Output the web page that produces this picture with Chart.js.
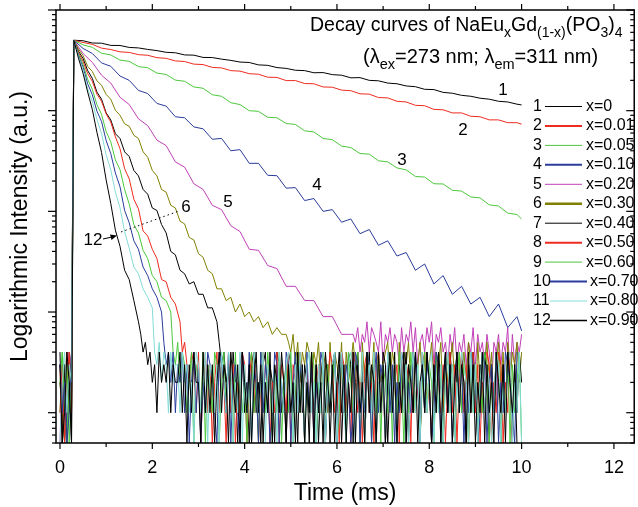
<!DOCTYPE html>
<html>
<head>
<meta charset="utf-8">
<script src="https://cdn.jsdelivr.net/npm/chart.js@4/dist/chart.umd.min.js"></script>
<style>
  html, body { margin: 0; padding: 0; background: #fff; }
  #wrap { width: 638px; height: 507px; }
</style>
</head>
<body>
<div id="wrap"><canvas id="decay" width="638" height="507"></canvas></div>
<script>
// series names (Eu content) and curve numbers
const curveNums = ['1','2','3','4','5','6','7','8','9','10','11','12'];
const seriesNames = ['x=0','x=0.01','x=0.05','x=0.10','x=0.20','x=0.30','x=0.40','x=0.50','x=0.60','x=0.70','x=0.80','x=0.90'];
const colors = ['#000000','#ee2b1f','#4cc83c','#2a3c9c','#c040b8','#808000','#000000','#ee2b1f','#4cc83c','#2a3c9c','#84dcd6','#000000'];

// time axis ticks (ms)
const xMajor = [0, 2, 4, 6, 8, 10, 12];
const xMinor = [1, 3, 5, 7, 9, 11];

// times for slow curves (ms)
const tSlow = [0.3,0.5,0.7,0.9,1.1,1.3,1.5,1.7,1.9,2.1,2.3,2.5,2.7,2.9,3.1,3.3,3.5,3.7,3.9,4.1,4.3,4.5,4.7,4.9,
  5.1,5.3,5.5,5.7,5.9,6.1,6.3,6.5,6.7,6.9,7.1,7.3,7.5,7.7,7.9,8.1,8.3,8.5,8.7,8.9,9.1,9.3,9.5,9.7,9.9,10.0];
// times for fast curves (ms)
const tFast = [0.3,0.4,0.5,0.6,0.7,0.8,0.9,1.0,1.1,1.2,1.3,1.4,1.5,1.6,1.7,1.8,1.9,2.0,2.1,2.2,2.3,2.4,2.5,2.6,
  2.7,2.8,2.9,3.0,3.1,3.2,3.3,3.4,3.5,3.6,3.7,3.8,3.9,4.0,4.1,4.2,4.3,4.4,4.5,4.6,4.7,4.8,4.9];

// decay intensities (counts)
const v1 = [5010,4950,4700,4680,4450,4440,4250,4200,4060,3950,3800,3760,3580,3560,3380,3370,3250,3160,3040,3010,2850,2820,2680,2630,
  2520,2500,2380,2390,2280,2250,2120,2130,2000,1980,1880,1850,1760,1730,1630,1620,1520,1490,1420,1390,1330,1300,1240,1220,1160,1140];
const v2 = [5000,4760,4560,4180,4050,3840,3790,3600,3550,3360,3310,3120,3080,2900,2870,2690,2660,2500,2470,2330,2300,2150,2140,1990,
  1990,1860,1850,1720,1710,1600,1580,1470,1460,1350,1340,1240,1220,1130,1120,1030,1020,950,950,880,870,810,810,760,760,735];
const v3 = [5000,4500,4260,3720,3580,3180,3090,2740,2670,2360,2290,2010,1960,1720,1670,1440,1390,1200,1150,1000,985,860,850,745,
  730,630,615,530,515,445,430,375,370,318,310,270,258,222,219,188,187,162,159,139,136,116,113,96,93,84];
const v4 = [5000,4150,3700,2980,2760,2210,2000,1590,1480,1180,1110,870,850,690,660,520,530,400,410,300,300,228,226,170,
  172,128,134,100,104,78,84,60,66,46,51,36,39,26,30,19,23,15,18,12,14,9,12,7,9,6.5];
const v5 = [5000,3700,3020,2250,1880,1360,1150,830,710,510,450,310,275,188,165,115,104,72,63,42,41,29,27,18,18,13,13,9,9,6,6];
const v6 = [5000,4100,3520,2750,2450,1980,1790,1450,1300,1010,900,740,700,570,530,390,345,255,225,165,155,115,108,80,
  75,55,52,38,35,26,24,17,17,13,14,10,12,9,10,8,9,7,8,6,7,6,6];
const v7 = [5000,3900,3300,2500,2100,1530,1300,950,810,590,530,390,350,255,225,165,148,108,102,74,61,40,37,26,24,19,20,15,15,11,11,8];
const v8 = [5000,3800,3080,2330,1960,1460,1240,930,770,550,420,265,210,132,106,64,57,42,34,21,20,14,12,8];
const v9 = [5000,3680,2880,2050,1630,1150,920,620,490,325,260,165,118,74,61,41,34,23,20,14,13,10];
const v10 = [5000,3550,2700,1850,1440,990,780,505,375,240,176,102,77,51,42,28,23,17,14,10];
const v11 = [5000,3450,2510,1650,1240,820,595,365,260,155,109,63,43,28,24,17,14,11];
const v12 = [5000,3320,2350,1530,1030,610,385,205,120,65,45,26,21,13,8];

// background counts before the pulse (t = 0 .. 0.25 ms, every 0.05 ms)
const pre = ['213021','302413','142031','320142','031243','210314','403120','130241','241303','312014','024132','301420'];

// background counts after each decay (every 0.05 ms), start time first
const fl5 = [6.35, '6574658476 5483657465 3746584735 6475836574 5364735463 5473645364 2546354726 3546'];
const fl6 = [4.95, '5463524354 2435243152 4325142353 4152432514 2345243152 4352413524 1352435142 3524314253 4152435241 3524152435 241352'];
const fl7 = [3.45, '5342314203 4120341203 4132043120 4312041320 4130241302 4130214302 4130241302 1430214031 2403142031 4203142031 4203142031 4203142031 4203142031 42'];
const fl8 = [2.65, '4532431402 4130241320 4130214302 4130241302 1403214032 1420314023 1402431204 3120431203 4120341203 4123041230 4120341203 4213024130 2413024130 2143021430 2140'];
const fl9 = [2.45, '4352431240 3214032143 0241320413 1203412043 1420314023 1402413021 4302140312 4013204213 4021430214 0321403142 0314213024 1320413024 1302413204 1302143021 4302140312 40'];
const fl10 = [2.25, '5342413241 3024130214 3210432140 2310421403 2041320143 0214302413 2041302143 0213402413 2014302143 0241320413 0214302143 2041320143 0241302413 0214320143 0231402143 2104'];
const fl11 = [2.05, '4352431423 3142312043 1240321304 2143021403 1204312403 2130421342 0314203412 0314021340 2410342031 4023140213 0421302413 0241304213 4021302413 0214320413 0241320143 0213402140'];
const fl12 = [1.75, '6453423142 3241322413 0314220413 1302413204 2130421302 4130214032 1420312041 3021403120 4213024130 2140312041 3204130241 3021403214 0231420314 0241302413 2041302140 3120421304 2130'];

const FONT = '"Liberation Sans", Arial, Helvetica, sans-serif';
const Y_MIN = 0.5;   // bottom of the log axis; zero counts sit on it

function count(d) { return d === 0 ? Y_MIN : d; }

function build(preStr, ts, vs, fl) {
  const pts = [];
  preStr.split('').forEach((d, i) => pts.push({ x: i * 0.05, y: count(+d) }));
  vs.forEach((v, i) => pts.push({ x: ts[i], y: v }));
  if (fl) {
    fl[1].replace(/\s/g, '').split('').forEach((d, i) => {
      const x = fl[0] + i * 0.05;
      if (x <= 10.001) pts.push({ x, y: count(+d) });
    });
  }
  return pts;
}

const curves = [
  build(pre[0], tSlow, v1), build(pre[1], tSlow, v2), build(pre[2], tSlow, v3), build(pre[3], tSlow, v4),
  build(pre[4], tSlow, v5, fl5), build(pre[5], tFast, v6, fl6), build(pre[6], tFast, v7, fl7), build(pre[7], tFast, v8, fl8),
  build(pre[8], tFast, v9, fl9), build(pre[9], tFast, v10, fl10), build(pre[10], tFast, v11, fl11), build(pre[11], tFast, v12, fl12)
];

function rich(ctx, parts, x, y, size, subSize) {
  for (const [txt, sub] of parts) {
    ctx.font = (sub ? subSize : size) + 'px ' + FONT;
    ctx.fillText(txt, x, sub ? y + size * 0.3 : y);
    x += ctx.measureText(txt).width;
  }
}

const decor = {
  id: 'decor',
  afterDatasetsDraw(chart) {
    const { ctx, chartArea: a, scales: { x, y } } = chart;
    ctx.save();
    ctx.strokeStyle = '#000';
    const seg = (x1, y1, x2, y2) => { ctx.beginPath(); ctx.moveTo(x1, y1); ctx.lineTo(x2, y2); ctx.stroke(); };

    // frame
    ctx.lineWidth = 1.5;
    ctx.strokeRect(a.left, a.top, a.right - a.left, a.bottom - a.top);

    // x ticks, bottom and top, pointing out
    ctx.lineWidth = 1.2;
    xMajor.concat(xMinor).forEach(t => {
      const len = xMajor.includes(t) ? 6 : 4;
      const px = x.getPixelForValue(t);
      seg(px, a.bottom, px, a.bottom + len);
      seg(px, a.top, px, a.top - len);
    });

    // y ticks: decades long, 2..9 short; left outside, right inside
    for (let e = -1; e <= 4; e++) {
      for (let m = 1; m <= 9; m++) {
        const v = m * Math.pow(10, e);
        if (v < Y_MIN - 1e-9 || v > 10000 + 1e-9) continue;
        const py = y.getPixelForValue(v);
        const len = m === 1 ? 8 : 4;
        seg(a.left, py, a.left - len, py);
        seg(a.right, py, a.right - len, py);
      }
    }

    // title
    ctx.fillStyle = '#000';
    ctx.textBaseline = 'alphabetic';
    ctx.textAlign = 'left';
    rich(ctx, [['Decay curves of NaEu'], ['x', 1], ['Gd'], ['(1-x)', 1], ['(PO'], ['3', 1], [')'], ['4', 1]], 310, 31, 19.5, 14);
    rich(ctx, [['(\u03bb'], ['ex', 1], ['=273 nm; \u03bb'], ['em', 1], ['=311 nm)']], 363, 63, 20, 14.5);

    // legend
    ctx.textBaseline = 'middle';
    curveNums.forEach((n, i) => {
      const ly = 106.5 + i * 19.45;
      const wide = i >= 9;
      ctx.font = '16px ' + FONT;
      ctx.fillStyle = '#000';
      ctx.fillText(n, 533, ly);
      ctx.fillText(seriesNames[i], wide ? 590 : 586, ly);
      ctx.strokeStyle = colors[i];
      ctx.lineWidth = [1, 2, 1, 2, 1, 2.5, 1, 2, 1, 2, 1, 1.5][i];
      seg(wide ? 550 : 545, ly, wide ? 587 : 582, ly);
    });

    // curve labels
    ctx.fillStyle = '#000';
    ctx.font = '17px ' + FONT;
    ctx.textAlign = 'center';
    [['1', 503, 90], ['2', 463, 130], ['3', 402, 160], ['4', 317, 185], ['5', 228, 202], ['6', 186, 207], ['12', 93, 240]]
      .forEach(([t, lx, ly]) => ctx.fillText(t, lx, ly));

    // arrow for 12 and dotted leader
    ctx.strokeStyle = '#000';
    ctx.lineWidth = 1;
    seg(103, 239, 112, 237);
    ctx.beginPath();
    ctx.moveTo(117, 235.5); ctx.lineTo(110, 234.5); ctx.lineTo(111.5, 240); ctx.closePath();
    ctx.fill();
    ctx.setLineDash([1.5, 3]);
    seg(121, 232, 179, 211);
    ctx.setLineDash([]);
    ctx.restore();
  }
};

new Chart(document.getElementById('decay'), {
  type: 'line',
  data: {
    datasets: curves.map((pts, i) => ({
      label: seriesNames[i],
      data: pts,
      borderColor: colors[i],
      borderWidth: 1,
      pointRadius: 0,
      tension: 0,
      fill: false,
      order: 12 - i
    }))
  },
  options: {
    responsive: false,
    animation: false,
    devicePixelRatio: 1,
    layout: { padding: { top: 10, right: 2, left: 0, bottom: 0 } },
    plugins: { legend: { display: false }, tooltip: { enabled: false } },
    scales: {
      x: {
        type: 'linear',
        min: -0.0864,
        max: 12.44,
        grid: { display: false, drawTicks: false },
        border: { display: false },
        ticks: {
          stepSize: 2,
          includeBounds: false,
          padding: 14,
          color: '#000',
          font: { size: 18, family: FONT },
          callback: v => (v % 2 === 0 && v >= 0) ? String(v) : ''
        },
        title: { display: true, text: 'Time (ms)', color: '#000', font: { size: 23, family: FONT }, padding: { top: 0, bottom: 0 } },
        afterFit: s => { s.height = 64; }
      },
      y: {
        type: 'logarithmic',
        min: Y_MIN,
        max: 10000,
        grid: { display: false, drawTicks: false },
        border: { display: false },
        ticks: { display: false },
        title: { display: true, text: 'Logarithmic Intensity (a.u.)', color: '#000', font: { size: 23, family: FONT }, padding: { top: 7, bottom: 0 } },
        afterFit: s => { s.width = 56; }
      }
    }
  },
  plugins: [decor]
});
</script>
</body>
</html>
